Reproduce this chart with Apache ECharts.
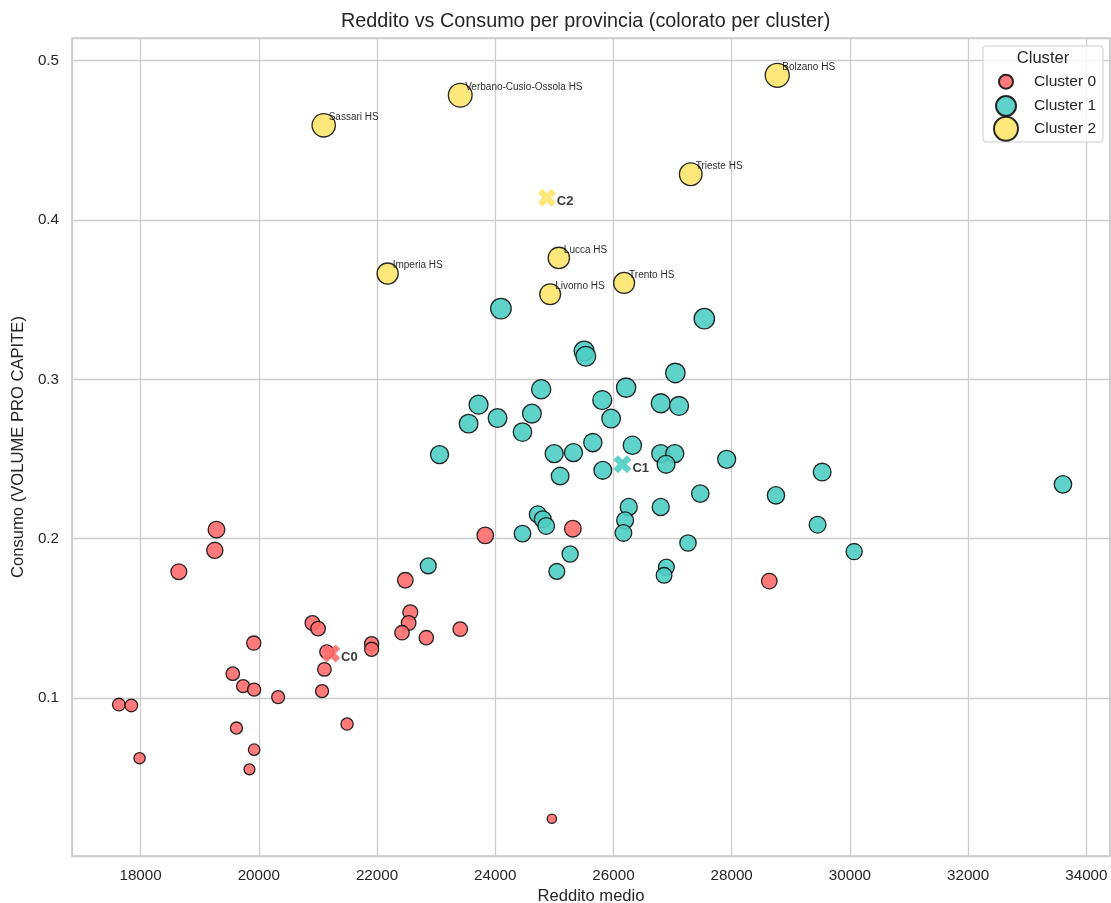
<!DOCTYPE html>
<html>
<head>
<meta charset="utf-8">
<title>Reddito vs Consumo per provincia</title>
<script src="https://cdn.jsdelivr.net/npm/echarts@6/dist/echarts.min.js"></script>
<style>
  html, body { margin: 0; padding: 0; background: #fff; }
  #chart { width: 1111px; height: 903px; }
</style>
</head>
<body>
<div id="chart"></div>
<script>
// [reddito medio, consumo pro capite]
var cluster0 = [
  [19284, 0.2057], [19256, 0.1927], [18647, 0.1793], [22479, 0.1739],
  [22563, 0.1538], [22535, 0.1471], [22423, 0.1410], [22834, 0.1379],
  [23408, 0.1433], [20907, 0.1471], [21003, 0.1436], [21909, 0.1341],
  [21909, 0.1306], [19915, 0.1345], [21150, 0.1290], [21110, 0.1180],
  [21070, 0.1044], [19560, 0.1153], [19735, 0.1075], [19921, 0.1053],
  [20327, 0.1006], [17633, 0.0959], [17843, 0.0954], [17983, 0.0623],
  [19622, 0.0812], [21493, 0.0837], [19921, 0.0676], [19842, 0.0553],
  [24958, 0.0243], [23831, 0.2021], [25313, 0.2063], [28636, 0.1734]
];
var cluster1 = [
  [22867, 0.1830], [24461, 0.2032], [24720, 0.2153], [24804, 0.2122],
  [24862, 0.2080], [25267, 0.1904], [25042, 0.1795], [26259, 0.2199],
  [26197, 0.2115], [26169, 0.2036], [26800, 0.2199], [27469, 0.2283],
  [27261, 0.1973], [26895, 0.1822], [26856, 0.1770], [28749, 0.2272],
  [29453, 0.2088], [30072, 0.1919], [33604, 0.2341], [27537, 0.3381],
  [27047, 0.3040], [26214, 0.2948], [26800, 0.2850], [27109, 0.2833],
  [25810, 0.2870], [25960, 0.2754], [26320, 0.2586], [26800, 0.2534],
  [27037, 0.2534], [26890, 0.2467], [27915, 0.2498], [29531, 0.2418],
  [25820, 0.2429], [24096, 0.3444], [25504, 0.3178], [25532, 0.3145],
  [24777, 0.2938], [23718, 0.2841], [23549, 0.2722], [24039, 0.2757],
  [24620, 0.2785], [24461, 0.2669], [23058, 0.2528], [24997, 0.2534],
  [25323, 0.2540], [25651, 0.2603], [25098, 0.2393]
];
var cluster2 = [
  [21098, 0.4594], [23408, 0.4783], [28771, 0.4908], [27307, 0.4287],
  [25076, 0.3762], [26180, 0.3605], [24929, 0.3534], [22180, 0.3664]
];
var cluster2Names = [
  'Sassari HS', 'Verbano-Cusio-Ossola HS', 'Bolzano HS', 'Trieste HS',
  'Lucca HS', 'Trento HS', 'Livorno HS', 'Imperia HS'
];
var centroids = [[21223, 0.1279], [26151, 0.2467], [24873, 0.4140]];
var centroidNames = ['C0', 'C1', 'C2'];
var clusterNames = ['Cluster 0', 'Cluster 1', 'Cluster 2'];

var colors = ['#FF6B6B', '#4ECDC4', '#FFE66D'];
var textColor = '#262626';
var font = 'Liberation Sans, Arial, sans-serif';
var crossPath = 'path://M2.5,0 L5,2.5 L7.5,0 L10,2.5 L7.5,5 L10,7.5 L7.5,10 L5,7.5 L2.5,10 L0,7.5 L2.5,5 L0,2.5 Z';

// dimensione del punto legata al consumo
function pointSize (val) {
  return Math.sqrt(61 + 1050 * val[1]);
}

function clusterSeries (i, data) {
  return {
    name: clusterNames[i],
    type: 'scatter',
    data: data,
    symbol: 'circle',
    symbolSize: pointSize,
    z: 2 + i,
    itemStyle: {
      color: colors[i],
      borderColor: '#111',
      borderWidth: 1.3,
      opacity: 0.9
    },
    emphasis: { disabled: true }
  };
}

var series = [
  clusterSeries(0, cluster0),
  clusterSeries(1, cluster1),
  clusterSeries(2, cluster2)
];
series[2].label = {
  show: true,
  position: 'inside',
  align: 'left',
  verticalAlign: 'middle',
  offset: [5, -8],
  fontSize: 10,
  color: '#111',
  fontFamily: font,
  formatter: function (p) { return cluster2Names[p.dataIndex]; }
};

centroids.forEach(function (c, i) {
  series.push({
    name: centroidNames[i],
    type: 'scatter',
    data: [c],
    symbol: crossPath,
    symbolSize: 18,
    z: 10,
    itemStyle: { color: colors[i], opacity: 0.9 },
    label: {
      show: true,
      position: 'right',
      distance: 1,
      offset: [0, 4],
      formatter: centroidNames[i],
      fontSize: 13,
      fontWeight: 'bold',
      color: textColor,
      fontFamily: font
    },
    emphasis: { disabled: true }
  });
});

// una legenda per cluster, per avere cerchi di dimensione diversa
// (il gruppo viene allineato sul bordo del cerchio, non del riquadro icona)
var legendSizes = [14, 20, 24];
var legendCenters = [82.7, 105, 127.7];
var legends = clusterNames.map(function (name, i) {
  var h = Math.max(legendSizes[i], 18);
  return {
    data: [name],
    left: 1005 - legendSizes[i] / 2,
    top: legendCenters[i] - h / 2,
    padding: 0,
    itemWidth: 46,
    itemHeight: legendSizes[i],
    z: 12,
    selectedMode: false,
    textStyle: { fontSize: 15.5, color: textColor, fontFamily: font }
  };
});

var chart = echarts.init(document.getElementById('chart'));
chart.setOption({
  backgroundColor: '#fff',
  animation: false,
  textStyle: { fontFamily: font },
  title: {
    text: 'Reddito vs Consumo per provincia (colorato per cluster)',
    left: 341,
    top: 12,
    padding: 0,
    textStyle: { fontSize: 19.8, fontWeight: 'normal', color: textColor, fontFamily: font }
  },
  grid: {
    left: 72,
    right: 1,
    top: 38,
    bottom: 47,
    show: true,
    borderColor: '#cccccc',
    borderWidth: 1.7,
    backgroundColor: '#fff',
    outerBoundsMode: 'none'
  },
  legend: legends,
  graphic: [
    {
      type: 'rect',
      z: 11,
      shape: { x: 983, y: 46, width: 120, height: 96, r: 3 },
      style: { fill: 'rgba(255,255,255,0.8)', stroke: '#cccccc', lineWidth: 1 }
    },
    {
      type: 'text',
      z: 12,
      x: 1043,
      y: 58.5,
      style: {
        text: 'Cluster',
        align: 'center',
        verticalAlign: 'middle',
        fontSize: 16.6,
        fill: textColor,
        fontFamily: font
      }
    }
  ],
  xAxis: {
    type: 'value',
    min: 16840,
    max: 34400,
    splitNumber: 9,
    minInterval: 2000,
    maxInterval: 2000,
    name: 'Reddito medio',
    nameLocation: 'middle',
    nameGap: 30,
    nameTextStyle: { fontSize: 16.6, color: textColor, fontFamily: font },
    axisLine: { show: false },
    axisTick: { show: false },
    axisLabel: {
      margin: 12,
      fontSize: 15.2,
      color: textColor,
      showMinLabel: false,
      showMaxLabel: false,
      formatter: function (v) { return String(v); }
    },
    splitLine: { show: true, lineStyle: { color: '#cccccc', width: 1.3 } }
  },
  yAxis: {
    type: 'value',
    min: 0.0009,
    max: 0.5142,
    splitNumber: 5,
    minInterval: 0.1,
    maxInterval: 0.1,
    name: 'Consumo (VOLUME PRO CAPITE)',
    nameLocation: 'middle',
    nameGap: 40,
    nameTextStyle: { fontSize: 16.6, color: textColor, fontFamily: font },
    axisLine: { show: false },
    axisTick: { show: false },
    axisLabel: {
      margin: 13,
      fontSize: 15.2,
      color: textColor,
      showMinLabel: false,
      showMaxLabel: false,
      formatter: function (v) { return String(Math.round(v * 10) / 10); }
    },
    splitLine: { show: true, lineStyle: { color: '#cccccc', width: 1.3 } }
  },
  series: series
});
</script>
</body>
</html>
